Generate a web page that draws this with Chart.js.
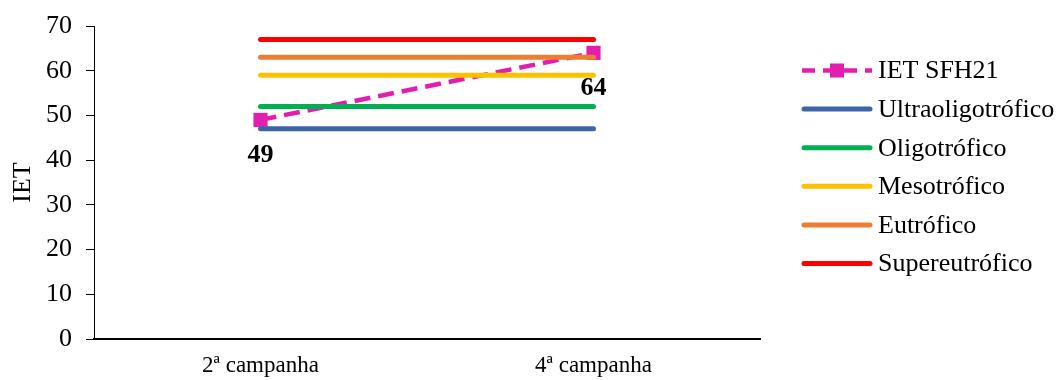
<!DOCTYPE html>
<html>
<head>
<meta charset="utf-8">
<script src="https://cdn.jsdelivr.net/npm/chart.js@4"></script>
<style>
  html, body { margin: 0; padding: 0; background: #fff; }
  #wrap { width: 1062px; height: 380px; }
</style>
</head>
<body>
<div id="wrap"><canvas id="c" width="1062" height="380"></canvas></div>
<script>
// Campaigns and trophic-state index values
const campanhas = ['2ª campanha', '4ª campanha'];
const ietSFH21 = [49, 64];
const ultraoligotrofico = [47, 47];
const oligotrofico = [52, 52];
const mesotrofico = [59, 59];
const eutrofico = [63, 63];
const supereutrofico = [67, 67];
const yTicks = [0, 10, 20, 30, 40, 50, 60, 70];

const serif = "'Liberation Serif', 'Times New Roman', serif";

function refLine(label, data, color) {
  return {
    label, data,
    borderColor: color, backgroundColor: color,
    borderWidth: 5, borderCapStyle: 'round',
    pointRadius: 0, pointHoverRadius: 0,
    fill: false, order: 0
  };
}

const datasets = [
  {
    label: 'IET SFH21', data: ietSFH21,
    borderColor: '#E31DB0', backgroundColor: '#E31DB0',
    borderWidth: 4.5, borderDash: [16, 8],
    pointStyle: 'rect', pointRadius: 10, pointBorderWidth: 0,
    fill: false, order: 1
  },
  refLine('Ultraoligotrófico', ultraoligotrofico, '#3E64A8'),
  refLine('Oligotrófico', oligotrofico, '#00B050'),
  refLine('Mesotrófico', mesotrofico, '#FFC000'),
  refLine('Eutrófico', eutrofico, '#ED7D31'),
  refLine('Supereutrófico', supereutrofico, '#FF0000')
];

// Value labels under the IET SFH21 points
const valueLabels = {
  id: 'valueLabels',
  afterDatasetsDraw(chart) {
    const ctx = chart.ctx;
    const meta = chart.getDatasetMeta(0);
    ctx.save();
    ctx.font = "bold 26px " + serif;
    ctx.fillStyle = '#000';
    ctx.textAlign = 'center';
    ctx.textBaseline = 'middle';
    meta.data.forEach((pt, i) => {
      ctx.fillText(String(chart.data.datasets[0].data[i]), pt.x, pt.y + 35);
    });
    ctx.restore();
  }
};

// Legend drawn at the right, one row per series
const sideLegend = {
  id: 'sideLegend',
  afterDraw(chart) {
    const ctx = chart.ctx;
    const x0 = 802, x1 = 872, tx = 878, y0 = 70.5, step = 38.6;
    ctx.save();
    chart.data.datasets.forEach((ds, i) => {
      const y = y0 + i * step;
      ctx.strokeStyle = ds.borderColor;
      ctx.lineWidth = ds.borderWidth;
      ctx.lineCap = ds.borderDash ? 'butt' : 'round';
      ctx.setLineDash(ds.borderDash ? [13, 8] : []);
      ctx.beginPath();
      ctx.moveTo(x0 + (ds.borderDash ? 0 : 2), y);
      ctx.lineTo(x1 - (ds.borderDash ? 0 : 2), y);
      ctx.stroke();
      ctx.setLineDash([]);
      if (ds.pointStyle === 'rect') {
        const s = 14, cx = (x0 + x1) / 2;
        ctx.fillStyle = ds.backgroundColor;
        ctx.fillRect(cx - s / 2, y - s / 2, s, s);
      }
      ctx.fillStyle = '#000';
      ctx.font = "26px " + serif;
      ctx.textAlign = 'left';
      ctx.textBaseline = 'middle';
      ctx.fillText(ds.label, tx, y + 1);
    });
    ctx.restore();
  }
};

new Chart(document.getElementById('c'), {
  type: 'line',
  data: { labels: campanhas, datasets },
  options: {
    responsive: false,
    animation: false,
    events: [],
    layout: { padding: { top: 26, right: 302, bottom: 0, left: 0 } },
    plugins: {
      legend: { display: false },
      tooltip: { enabled: false }
    },
    scales: {
      x: {
        type: 'category',
        offset: true,
        grid: { display: false, drawTicks: false },
        border: { display: true, color: '#000', width: 2 },
        ticks: {
          color: '#000',
          font: { family: serif, size: 23 },
          padding: 13,
          maxRotation: 0
        },
        afterFit(scale) { scale.height = 41; }
      },
      y: {
        min: 0, max: 70,
        afterBuildTicks(scale) { scale.ticks = yTicks.map(v => ({ value: v })); },
        grid: { drawOnChartArea: false, drawTicks: true, tickLength: 8, color: '#000' },
        border: { display: true, color: '#000', width: 1 },
        ticks: {
          color: '#000',
          font: { family: serif, size: 26 },
          padding: 14
        },
        title: {
          display: true, text: 'IET', color: '#000',
          font: { family: serif, size: 26 },
          padding: { top: 8, bottom: 0 }
        },
        afterFit(scale) {
          scale.width = 94;
          scale.paddingTop = 0;
          scale.paddingBottom = 0;
        }
      }
    }
  },
  plugins: [valueLabels, sideLegend]
});
</script>
</body>
</html>
